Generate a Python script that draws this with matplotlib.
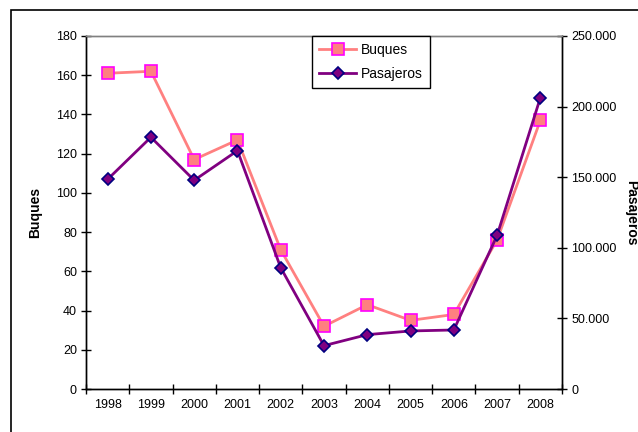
import matplotlib
matplotlib.use("Agg")
import matplotlib.pyplot as plt
from matplotlib.patches import Rectangle
from matplotlib.ticker import FuncFormatter

years = ["1998", "1999", "2000", "2001", "2002", "2003", "2004", "2005", "2006", "2007", "2008"]
buques = [161, 162, 117, 127, 71, 32, 43, 35, 38, 76, 137]
pasajeros = [148500, 178300, 147800, 168800, 85900, 30700, 38500, 41100, 41800, 108800, 206300]
left_ticks = [0, 20, 40, 60, 80, 100, 120, 140, 160, 180]
right_ticks = [0, 50000, 100000, 150000, 200000, 250000]

plt.rcParams['font.family'] = ['Liberation Sans', 'DejaVu Sans']

W, H = 638, 432
fig = plt.figure(figsize=(W / 100, H / 100), dpi=100)
fig.patch.set_facecolor('white')

# outer chart frame (extends past right/bottom edges)
fig.patches.append(Rectangle((11 / W, -0.1), 1.2, 1 - 10.5 / H + 0.1, transform=fig.transFigure,
                             fill=False, edgecolor='black', linewidth=1.2))

ax = fig.add_axes([86 / W, 1 - 389 / H, (562 - 86) / W, (389 - 36) / H])
ax2 = ax.twinx()

x = [i + 0.5 for i in range(len(years))]

l1, = ax.plot(x, buques, color='#FF8080', lw=2, marker='s', ms=8,
              mfc='#FF8080', mec='#FF00FF', mew=1.2, label='Buques', zorder=3)
l2, = ax2.plot(x, pasajeros, color='#800080', lw=2, marker='D', ms=6.5,
               mfc='#800080', mec='#000080', mew=1.2, label='Pasajeros', zorder=3)

ax.set_xlim(0, len(years))
ax.set_ylim(0, 180)
ax2.set_ylim(0, 250000)

ax.set_xticks(range(len(years) + 1))
ax.set_xticklabels([])
ax.set_xticks(x, minor=True)
ax.set_xticklabels(years, minor=True)
ax.tick_params(axis='x', which='minor', length=0, labelsize=9, pad=7)
ax.tick_params(axis='x', which='major', direction='inout', length=7, width=1)

ax.set_yticks(left_ticks)
ax.tick_params(axis='y', direction='inout', length=7, width=1, labelsize=9, pad=3)
ax2.set_yticks(right_ticks)
ax2.yaxis.set_major_formatter(FuncFormatter(lambda v, p: f"{int(v):,}".replace(",", ".")))
ax2.tick_params(axis='y', direction='inout', length=7, width=1, labelsize=9, pad=3)

for a in (ax, ax2):
    a.spines['top'].set_color('#808080')
    a.spines['top'].set_linewidth(1)
    a.spines['left'].set_linewidth(1)
    a.spines['right'].set_linewidth(1)
    a.spines['bottom'].set_linewidth(1)

ax.set_ylabel('Buques', fontsize=10, fontweight='bold', labelpad=10)
ax2.set_ylabel('Pasajeros', fontsize=10, fontweight='bold', rotation=-90, labelpad=16)

leg = ax.legend([l1, l2], ['Buques', 'Pasajeros'], loc='upper left',
                bbox_to_anchor=((312 - 86) / (562 - 86), 1.0),
                frameon=True, fancybox=False, framealpha=1, edgecolor='black',
                fontsize=10, borderpad=0.5, labelspacing=0.75, handlelength=2.7,
                handletextpad=0.35, borderaxespad=0)
leg.get_frame().set_linewidth(1)
leg.remove()
ax2.add_artist(leg)

fig.savefig('out.png', dpi=100)
